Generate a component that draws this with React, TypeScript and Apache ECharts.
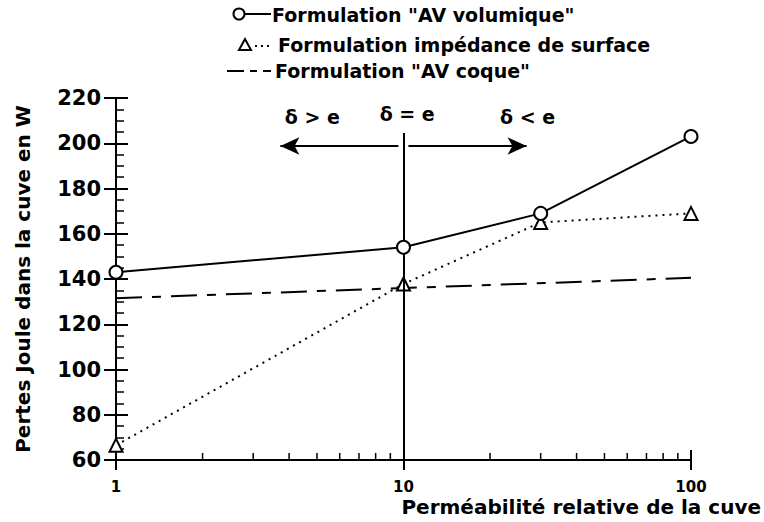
import React, { useEffect, useRef } from "react";
import * as echarts from "echarts";

const permeability = [1, 10, 30, 100];
const avVolumique = [143, 154, 169, 203];
const impedanceSurface = [66.5, 137.8, 165, 169];
const coqueX = [1, 10, 100];
const avCoque = [131.5, 136, 140.5];
const minorXTicks = [2, 3, 4, 5, 6, 7, 8, 9, 20, 30, 40, 50, 60, 70, 80, 90];
const seriesNames = [
  'Formulation "AV volumique"',
  "Formulation impédance de surface",
  'Formulation "AV coque"',
];
const regimeLabels = ["δ > e", "δ = e", "δ < e"];
const yMin = 60;
const yMax = 220;
const yStep = 20;

const FONT = '"DejaVu Sans", "Liberation Sans", Arial, sans-serif';

export default function App() {
  const ref = useRef<HTMLDivElement>(null);

  useEffect(() => {
    if (!ref.current) return;
    const chart = echarts.init(ref.current, null, { renderer: "svg" });

    const xCommon = {
      type: "log" as const,
      logBase: 10,
      min: 1,
      max: 100,
      splitLine: { show: false },
    };
    const yCommon = {
      type: "value" as const,
      min: yMin,
      max: yMax,
      interval: yStep,
      splitLine: { show: false },
    };
    const legendText = { fontSize: 19, fontWeight: "bold", fontFamily: FONT, fill: "#000", verticalAlign: "middle" };

    const option: any = {
      animation: false,
      backgroundColor: "#ffffff",
      textStyle: { fontFamily: FONT, color: "#000" },
      grid: { left: 116, right: 72, top: 98, bottom: 62 },
      xAxis: [
        {
          ...xCommon,
          position: "bottom",
          axisLine: { show: true, lineStyle: { color: "#000", width: 2 } },
          axisTick: { show: true, inside: false, length: 10, lineStyle: { color: "#000", width: 2 } },
          axisLabel: { show: true, margin: 19, color: "#000", fontSize: 15, fontWeight: "bold", fontFamily: FONT },
          name: "Perméabilité relative de la cuve",
          nameLocation: "end",
          nameGap: 70,
          nameTextStyle: {
            color: "#000",
            fontSize: 20,
            fontWeight: "bold",
            fontFamily: FONT,
            align: "right",
            verticalAlign: "top",
            padding: [37, 0, 0, 0],
          },
        },
        {
          ...xCommon,
          position: "bottom",
          axisLine: { show: false },
          axisTick: { show: true, inside: true, length: 10, lineStyle: { color: "#000", width: 2 } },
          axisLabel: { show: false },
        },
      ],
      yAxis: [
        {
          ...yCommon,
          position: "left",
          axisLine: { show: true, lineStyle: { color: "#000", width: 2 } },
          axisTick: { show: true, inside: false, length: 12, lineStyle: { color: "#000", width: 2 } },
          axisLabel: { show: true, margin: 15, color: "#000", fontSize: 21, fontWeight: "bold", fontFamily: FONT },
          name: "Pertes Joule dans la cuve en W",
          nameLocation: "middle",
          nameGap: 83,
          nameTextStyle: { color: "#000", fontSize: 20, fontWeight: "bold", fontFamily: FONT },
        },
        {
          ...yCommon,
          position: "left",
          axisLine: { show: false },
          axisTick: { show: true, inside: true, length: 12, lineStyle: { color: "#000", width: 2 } },
          minorTick: { show: true, splitNumber: 4, length: 8, lineStyle: { color: "#000", width: 1.5 } },
          axisLabel: { show: false },
        },
      ],
      graphic: [
        // legend row 1
        { type: "line", shape: { x1: 245, y1: 14, x2: 271, y2: 14 }, style: { stroke: "#000", lineWidth: 2 } },
        { type: "circle", shape: { cx: 239, cy: 14, r: 5.5 }, style: { fill: "#fff", stroke: "#000", lineWidth: 2 } },
        { type: "text", x: 272, y: 15, style: { ...legendText, text: seriesNames[0] } },
        // legend row 2
        {
          type: "polygon",
          shape: { points: [[245, 39], [239, 50], [251, 50]] },
          style: { fill: "#fff", stroke: "#000", lineWidth: 2 },
        },
        {
          type: "line",
          shape: { x1: 255, y1: 46, x2: 273, y2: 46 },
          style: { stroke: "#000", lineWidth: 2, lineDash: [2, 4] },
        },
        { type: "text", x: 278, y: 45, style: { ...legendText, text: seriesNames[1] } },
        // legend row 3
        {
          type: "line",
          shape: { x1: 227, y1: 71, x2: 271, y2: 71 },
          style: { stroke: "#000", lineWidth: 2, lineDash: [17, 6, 7, 6] },
        },
        { type: "text", x: 275, y: 71, style: { ...legendText, text: seriesNames[2] } },
      ],
      series: [
        {
          name: seriesNames[0],
          type: "line",
          xAxisIndex: 0,
          yAxisIndex: 0,
          data: permeability.map((x, i) => [x, avVolumique[i]]),
          symbol: "circle",
          symbolSize: 13,
          itemStyle: { color: "#fff", borderColor: "#000", borderWidth: 2 },
          lineStyle: { color: "#000", width: 2, type: "solid" },
          z: 5,
          markLine: {
            silent: true,
            symbol: "none",
            label: { show: false },
            lineStyle: { color: "#000", width: 2, type: "solid" },
            data: [
              [{ coord: [10, 60] }, { coord: [10, 204.5] }],
              [
                { coord: [9.6, 198.8], symbol: "none" },
                { coord: [3.73, 198.8], symbol: "arrow", symbolSize: [13, 19] },
              ],
              [
                { coord: [10.4, 198.8], symbol: "none" },
                { coord: [26.8, 198.8], symbol: "arrow", symbolSize: [13, 19] },
              ],
            ],
          },
          markPoint: {
            silent: true,
            symbol: "circle",
            symbolSize: 1,
            itemStyle: { color: "rgba(0,0,0,0)", borderWidth: 0 },
            label: {
              show: true,
              position: "inside",
              formatter: "{b}",
              color: "#000",
              fontSize: 19,
              fontWeight: "bold",
              fontFamily: FONT,
            },
            data: [
              { name: regimeLabels[0], coord: [4.82, 211.6] },
              { name: regimeLabels[1], coord: [10.3, 213] },
              { name: regimeLabels[2], coord: [27.0, 211.6] },
            ],
          },
        },
        {
          name: seriesNames[1],
          type: "line",
          xAxisIndex: 0,
          yAxisIndex: 0,
          data: permeability.map((x, i) => [x, impedanceSurface[i]]),
          symbol: "triangle",
          symbolSize: 13,
          itemStyle: { color: "#fff", borderColor: "#000", borderWidth: 2 },
          lineStyle: { color: "#000", width: 2, type: [2, 5] },
          z: 4,
        },
        {
          name: seriesNames[2],
          type: "line",
          xAxisIndex: 0,
          yAxisIndex: 0,
          data: coqueX.map((x, i) => [x, avCoque[i]]),
          symbol: "none",
          lineStyle: { color: "#000", width: 2, type: [26, 10, 9, 10] },
          z: 3,
        },
        {
          name: "minor ticks",
          type: "custom",
          xAxisIndex: 0,
          yAxisIndex: 0,
          silent: true,
          clip: false,
          data: minorXTicks.map((x) => [x, yMin]),
          renderItem: (_params: any, api: any) => {
            const p = api.coord([api.value(0), api.value(1)]);
            return {
              type: "line",
              shape: { x1: p[0], y1: p[1], x2: p[0], y2: p[1] - 7 },
              style: { stroke: "#000", lineWidth: 1.5 },
            };
          },
          z: 6,
        },
      ],
    };

    chart.setOption(option);
    return () => chart.dispose();
  }, []);

  return (
    <div
      ref={ref}
      style={{ position: "absolute", left: 0, top: 0, width: 764, height: 522 }}
    />
  );
}
